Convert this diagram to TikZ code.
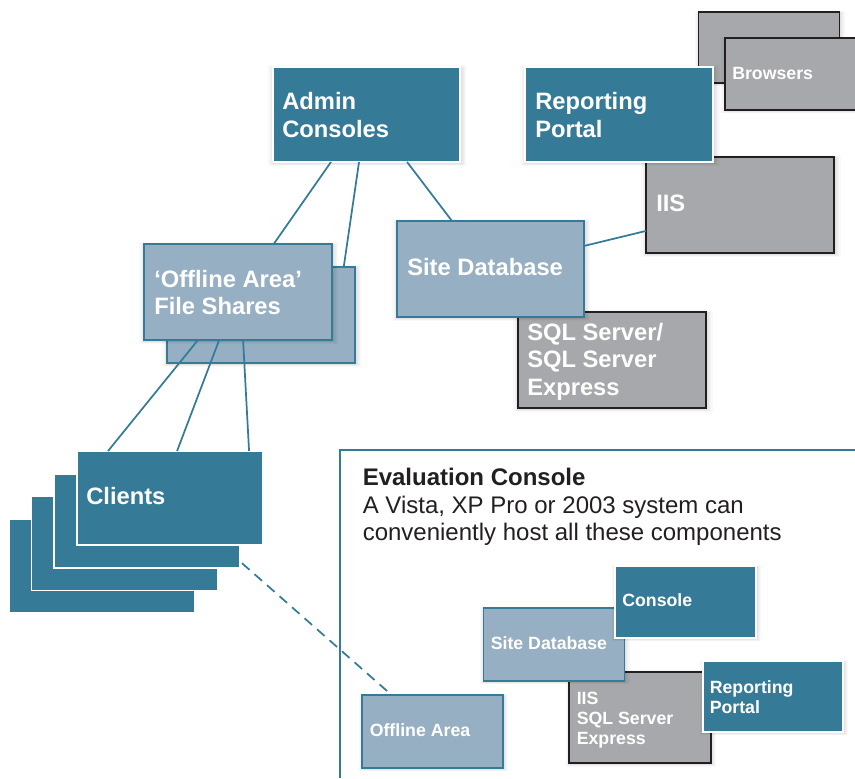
\documentclass[tikz,border=0pt]{standalone}
\usepackage{fontspec}
\setmainfont{Liberation Sans}
\usetikzlibrary{calc,shadows}
\definecolor{tealc}{HTML}{357B98}
\definecolor{lightc}{HTML}{97AFC2}
\definecolor{greyc}{HTML}{A6A8AB}
\definecolor{darkc}{HTML}{231F20}
\tikzset{
  bx/.style 2 args={minimum width=#1*.75pt, minimum height=#2*.75pt, anchor=north west, inner sep=0pt, outer sep=0pt, rectangle},
  softlayer/.style={general shadow={fill=black, draw=none, fill opacity=.022, shadow scale=#1, shadow xshift=.6pt, shadow yshift=-.8pt}},
  softshade/.style={softlayer=1.06, softlayer=1.045, softlayer=1.03, softlayer=1.02, softlayer=1.01},
  tealbox/.style={fill=tealc, draw=white, line width=1.2pt},
  lightbox/.style={fill=lightc, draw=tealc, line width=1.3pt},
  greybox/.style={fill=greyc, draw=darkc, line width=1.4pt},
  bigtxt/.style={anchor=west, inner sep=0pt, text=white, align=left, font=\fontsize{17.8}{20.6}\selectfont\bfseries},
  smalltxt/.style={anchor=west, inner sep=0pt, text=white, align=left, font=\fontsize{13.3}{15}\selectfont\bfseries},
  link/.style={draw=tealc, line width=1.3pt},
  duallink/.style={draw=tealc, line width=1.3pt, dash pattern=on 7.5pt off 5pt, shorten <=2pt}
}
\begin{document}
\begin{tikzpicture}[x=.75pt,y=-.75pt]
\useasboundingbox (0,0) rectangle (855,778);
\clip (0,0) rectangle (855,778);
% evaluation frame
\coordinate (evalbl) at (340,778);
\coordinate (evaltl) at (340,450);
\coordinate (evaltr) at (855,450);
\draw[link] (evalbl) -- (evaltl) -- (evaltr);
% browsers
\node[greybox,softshade,bx={141}{71}] (brback) at (698.5,12) {};
\node[greybox,softshade,bx={150}{72}] (brfront) at (725,38) {};
\node[smalltxt] (brtxt) at (732,73) {Browsers};
% IIS
\node[greybox,softshade,bx={188}{96}] (iis) at (646,157) {};
\node[bigtxt] (iistxt) at (656,203) {IIS};
% SQL
\node[greybox,softshade,bx={188}{96}] (sql) at (518,312) {};
% admin, reporting
\node[tealbox,softshade,bx={187}{95}] (admin) at (273,67) {};
\node[bigtxt] (admintxt) at (282,115) {Admin\\Consoles};
\node[tealbox,softshade,bx={188}{95}] (report) at (525,67) {};
\node[bigtxt] (reporttxt) at (535,115) {Reporting\\Portal};
% site database
\node[lightbox,softshade,bx={187}{96}] (site) at (397,221) {};
\node[bigtxt] (sitetxt) at (407,267) {Site Database};
\node[bigtxt] (sqltxt) at (527,361.5) {SQL Server/\\SQL Server\\Express};
% offline shares
\node[lightbox,softshade,bx={188}{96}] (shareback) at (167,267) {};
\node[lightbox,softshade,bx={188}{96}] (share) at (144,244) {};
\node[bigtxt] (sharetxt) at (154,292.5) {‘Offline Area’\\File Shares};
% clients
\node[tealbox,bx={186}{94}] (cl4) at (9,519) {};
\node[tealbox,bx={186}{94}] (cl3) at (31.5,496.5) {};
\node[tealbox,bx={186}{94}] (cl2) at (54,474) {};
\node[tealbox,bx={186}{94}] (cl1) at (77,451) {};
\node[bigtxt] (cltxt) at (86,496) {Clients};
% evaluation text
\node[anchor=north west, inner sep=0pt, align=left, text=darkc, font=\fontsize{18}{20.6}\selectfont] (evaltxt) at (362.5,468)
  {\textbf{Evaluation Console}\\A Vista, XP Pro or 2003 system can\\conveniently host all these components};
% small boxes
\node[lightbox,softshade,bx={141}{73}] (soff) at (362,695) {};
\node[smalltxt] (sofftxt) at (369.5,730) {Offline Area};
\node[greybox,softshade,bx={142}{91}] (siis) at (569,672) {};
\node[smalltxt] (siistxt) at (576.5,720.5) {IIS\\SQL Server\\Express};
\node[lightbox,softshade,bx={141}{73}] (ssite) at (483.5,608) {};
\node[smalltxt] (ssitetxt) at (490.5,643) {Site Database};
\node[tealbox,softshade,bx={141}{72}] (scons) at (615,566) {};
\node[smalltxt] (sconstxt) at (622,600) {Console};
\node[tealbox,softshade,bx={140}{71}] (srep) at (703,661) {};
\node[smalltxt] (sreptxt) at (709.5,697) {Reporting\\Portal};
% connectors
\draw[link] ($(admin.south west)!.31!(admin.south east)$) -- ($(share.north west)!.69!(share.north east)$);
\draw[link] ($(admin.south west)!.46!(admin.south east)$) -- ($(shareback.north west)!.94!(shareback.north east)$);
\draw[link] ($(admin.south west)!.717!(admin.south east)$) -- ($(site.north west)!.294!(site.north east)$);
\draw[link] ($(site.north east)!.26!(site.south east)$) -- ($(iis.north west)!.77!(iis.south west)$);
\draw[link] ($(share.south west)!.287!(share.south east)$) -- ($(cl1.north west)!.167!(cl1.north east)$);
\draw[link] ($(share.south west)!.40!(share.south east)$) -- ($(cl1.north west)!.538!(cl1.north east)$);
\draw[link] ($(share.south west)!.527!(share.south east)$) -- ($(cl1.north west)!.925!(cl1.north east)$);
\draw[duallink] ($(cl2.north east)!.93!(cl2.south east)$) -- ($(soff.north west)!.21!(soff.north east)$);
\end{tikzpicture}
\end{document}
